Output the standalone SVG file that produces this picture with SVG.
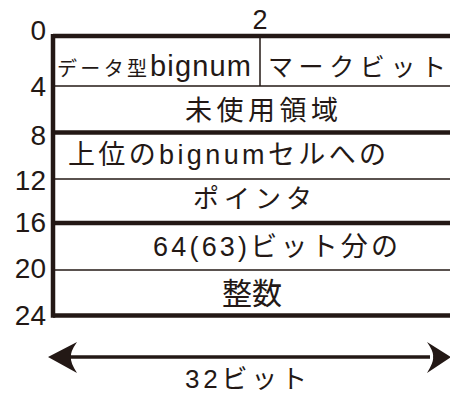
<svg xmlns="http://www.w3.org/2000/svg" width="450" height="394" viewBox="0 0 450 394">
<style>
text{font-family:"Liberation Sans","Noto Sans CJK JP",sans-serif;fill:#231815}
.num{font-size:28px;text-anchor:end}
.thick{stroke:#231815;stroke-width:4.5;fill:none}
.thin{stroke:#231815;stroke-width:1.5;fill:none}
</style>
<rect width="450" height="394" fill="#fff"/>
<g id="grid">
<line class="thick" x1="53" y1="36" x2="450" y2="36"/>
<line class="thin" x1="53" y1="86" x2="450" y2="86"/>
<line class="thick" x1="53" y1="132.5" x2="450" y2="132.5"/>
<line class="thin" x1="53" y1="179" x2="450" y2="179"/>
<line class="thick" x1="53" y1="223" x2="450" y2="223"/>
<line class="thin" x1="53" y1="270" x2="450" y2="270"/>
<line class="thick" x1="53" y1="315.5" x2="450" y2="315.5"/>
<line class="thick" x1="53" y1="34" x2="53" y2="317.7"/>
<line class="thin" x1="260" y1="37" x2="260" y2="86"/>
</g>
<g id="offsets">
<text class="num" x="46" y="40">0</text>
<text class="num" x="46" y="96">4</text>
<text class="num" x="46" y="145">8</text>
<text class="num" x="46" y="190">12</text>
<text class="num" x="46" y="232">16</text>
<text class="num" x="46" y="278">20</text>
<text class="num" x="46" y="325">24</text>
<text x="260" y="29" font-size="27" text-anchor="middle">2</text>
</g>
<g id="row1">
<text x="57" y="76" font-size="20" textLength="90">データ型</text>
<text x="150" y="76" font-size="29" textLength="101">bignum</text>
<text x="268" y="76" font-size="25" textLength="178">マークビット</text>
</g>
<g id="row2"><text x="185" y="120" font-size="27" textLength="153">未使用領域</text></g>
<g id="row3"><text x="68" y="164" font-size="27" textLength="318">上位のbignumセルへの</text></g>
<g id="row4"><text x="193" y="208" font-size="26" textLength="119">ポインタ</text></g>
<g id="row5"><text x="153" y="256" font-size="27" textLength="245">64(63)ビット分の</text></g>
<g id="row6"><text x="222" y="304" font-size="30" textLength="60">整数</text></g>
<g id="width-arrow">
<line x1="70" y1="357" x2="430" y2="357" stroke="#231815" stroke-width="3.5"/>
<path d="M48,357 L77,342 Q70,352 71,357 Q70,362 77,373 Z" fill="#231815"/>
<path d="M451,357 L427,342 Q434,352 433,357 Q434,362 427,373 Z" fill="#231815"/>
<text x="185" y="388" font-size="26" textLength="122">32ビット</text>
</g>
</svg>
